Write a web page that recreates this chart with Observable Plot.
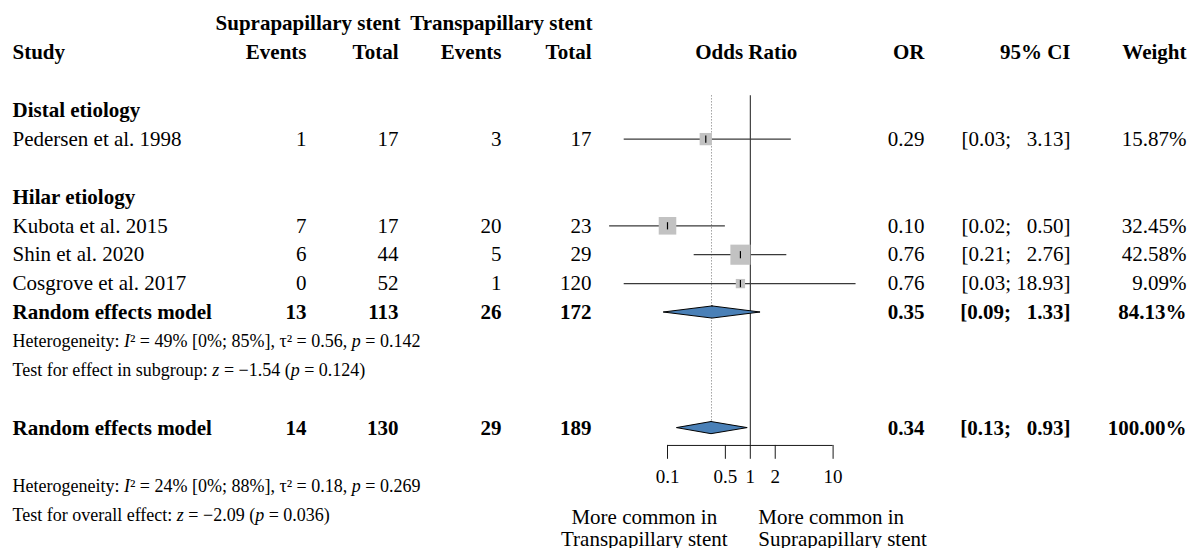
<!DOCTYPE html>
<html>
<head>
<meta charset="utf-8">
<script src="https://cdn.jsdelivr.net/npm/d3@7"></script>
<script src="https://cdn.jsdelivr.net/npm/@observablehq/plot@0.6"></script>
<style>
  html, body { margin: 0; padding: 0; background: #fff; }
  #chart svg { display: block; }
</style>
</head>
<body>
<div id="chart"></div>
<script>
// ---- Study-level data -------------------------------------------------
const studyNames   = ["Pedersen et al. 1998", "Kubota et al. 2015", "Shin et al. 2020", "Cosgrove et al. 2017"];
const studyGroup   = ["Distal etiology", "Hilar etiology", "Hilar etiology", "Hilar etiology"];
const supraEvents  = [1, 7, 6, 0];
const supraTotal   = [17, 17, 44, 52];
const transEvents  = [3, 20, 5, 1];
const transTotal   = [17, 23, 29, 120];
const oddsRatio    = [0.29, 0.10, 0.76, 0.76];
const ciLower      = [0.03, 0.02, 0.21, 0.03];
const ciUpper      = [3.13, 0.50, 2.76, 18.93];
const weightPct    = [15.87, 32.45, 42.58, 9.09];

// ---- Subgroups and pooled estimates -----------------------------------
const groupNames        = ["Distal etiology", "Hilar etiology"];
const pooledLabels      = ["Random effects model", "Random effects model"];
const pooledScope       = ["Hilar etiology", "Overall"];
const pooledSupraEvents = [13, 14];
const pooledSupraTotal  = [113, 130];
const pooledTransEvents = [26, 29];
const pooledTransTotal  = [172, 189];
const pooledOR          = [0.35, 0.34];
const pooledLower       = [0.09, 0.13];
const pooledUpper       = [1.33, 0.93];
const pooledWeight      = [84.13, 100.00];
const hetNotes  = ["Heterogeneity: I² = 49% [0%; 85%], τ² = 0.56, p = 0.142",
                   "Heterogeneity: I² = 24% [0%; 88%], τ² = 0.18, p = 0.269"];
const testNotes = ["Test for effect in subgroup: z = −1.54 (p = 0.124)",
                   "Test for overall effect: z = −2.09 (p = 0.036)"];

// ---- Headers, axis ticks and direction labels -------------------------
const armHeaders    = ["Suprapapillary stent", "Transpapillary stent"];
const columnHeaders = ["Study", "Events", "Total", "Events", "Total", "Odds Ratio", "OR", "95% CI", "Weight"];
const orTicks       = [0.1, 0.5, 1, 2, 10];
const favourLabels  = ["More common in\nTranspapillary stent", "More common in\nSuprapapillary stent"];

// ---- Layout ---------------------------------------------------------------
const W = 1190, H = 548;
const rowTop = 23, rowStep = 28.9;          // pixel centre of row 0, row spacing
const col = {study: 12, supraEvents: 306, supraTotal: 398, transEvents: 501, transTotal: 591,
             or: 924, ci: 1070, weight: 1186};
const armCol = [400, 592];                   // right edges of the two arm headers
const axisRow = 14.6;                        // vertical position of the OR axis, in rows
const tickLen = 0.48;                        // axis tick length, in rows
const tickLabelRow = axisRow + 1.08;
const favourRow = 17.45;
const diamondHalf = 0.21;                    // half height of the pooled diamonds, in rows
const fs = 21, fsNote = 18, fsTick = 19;

// Assign a row to every line of the table.
let r = 3;
const groupRows = [], studyRow = [], pooledRow = [], notes = [];
for (const g of groupNames) {
  groupRows.push({label: g, row: r++});
  studyGroup.forEach((sg, i) => { if (sg === g) studyRow[i] = r++; });
  const p = pooledScope.indexOf(g);
  if (p >= 0) {
    pooledRow[p] = r++;
    notes.push({text: hetNotes[p], row: r++}, {text: testNotes[p], row: r++});
  }
  r++;
}
const overall = pooledScope.indexOf("Overall");
pooledRow[overall] = r;
r += 2;
notes.push({text: hetNotes[overall], row: r++}, {text: testNotes[overall], row: r++});

const f2 = d3.format(".2f");
const ciText = (lo, hi) => `[${f2(lo)}; ${f2(hi).padStart(5, "\u2007")}]`;

const studies = studyNames.map((name, i) => ({
  name, row: studyRow[i], se: supraEvents[i], st: supraTotal[i], te: transEvents[i], tt: transTotal[i],
  or: oddsRatio[i], lo: ciLower[i], hi: ciUpper[i], w: weightPct[i]
}));
const pooled = pooledLabels.map((name, i) => ({
  name, row: pooledRow[i], se: pooledSupraEvents[i], st: pooledSupraTotal[i], te: pooledTransEvents[i],
  tt: pooledTransTotal[i], or: pooledOR[i], lo: pooledLower[i], hi: pooledUpper[i], w: pooledWeight[i]
}));
const diamonds = pooled.flatMap((p, i) => [
  {id: i, y: p.row - diamondHalf, x1: p.or, x2: p.or},
  {id: i, y: p.row,               x1: p.lo, x2: p.hi},
  {id: i, y: p.row + diamondHalf, x1: p.or, x2: p.or}
]);

// Table columns drawn as text at fixed horizontal anchors.
function tableColumns(data, weight) {
  const cell = (text, x, anchor = "end") => Plot.text(data, {
    y: "row", text, frameAnchor: "left", dx: x, textAnchor: anchor, fontSize: fs, fontWeight: weight
  });
  return [
    cell("name", col.study, "start"),
    cell(d => `${d.se}`, col.supraEvents),
    cell(d => `${d.st}`, col.supraTotal),
    cell(d => `${d.te}`, col.transEvents),
    cell(d => `${d.tt}`, col.transTotal),
    cell(d => f2(d.or), col.or),
    cell(d => ciText(d.lo, d.hi), col.ci),
    cell(d => `${f2(d.w)}%`, col.weight)
  ];
}

const headerCols = [col.study, col.supraEvents, col.supraTotal, col.transEvents, col.transTotal, null, col.or, col.ci, col.weight];
const headerMarks = columnHeaders.map((h, i) => h === "Odds Ratio"
  ? Plot.text([h], {x: () => 1, y: () => 1, dx: -4, text: d => d, fontSize: fs, fontWeight: "bold"})
  : Plot.text([h], {y: () => 1, text: d => d, frameAnchor: "left", dx: headerCols[i],
                    textAnchor: i === 0 ? "start" : "end", fontSize: fs, fontWeight: "bold"}));
const armMarks = armHeaders.map((h, i) =>
  Plot.text([h], {y: () => 0, text: d => d, frameAnchor: "left", dx: armCol[i],
                  textAnchor: "end", fontSize: fs, fontWeight: "bold"}));

// A short vertical stroke marking each point estimate.
const vbar = {
  draw(context, size) {
    const h = Math.sqrt(size / Math.PI);
    context.moveTo(0, -h);
    context.lineTo(0, h);
  }
};

const chart = Plot.plot({
  width: W,
  height: H,
  margin: 0,
  style: {fontFamily: "'Liberation Serif', 'Times New Roman', serif", color: "#000", background: "#fff"},
  x: {type: "log", domain: [0.1, 10], range: [667, 832.6]},
  y: {domain: [0, 18], range: [rowTop, rowTop + rowStep * 18], axis: null},
  r: {type: "sqrt", domain: [0, 100], range: [0, 17.4]},
  marks: [
    // column headers
    ...armMarks,
    ...headerMarks,

    // subgroup labels
    Plot.text(groupRows, {y: "row", text: "label", frameAnchor: "left", dx: col.study,
      textAnchor: "start", fontSize: fs, fontWeight: "bold"}),

    // study and pooled rows
    ...tableColumns(studies, "normal"),
    ...tableColumns(pooled, "bold"),

    // heterogeneity and test notes
    Plot.text(notes, {y: "row", text: "text", frameAnchor: "left", dx: col.study,
      textAnchor: "start", fontSize: fsNote, className: "note"}),

    // reference lines: null effect and overall estimate
    Plot.ruleX([1], {y1: () => 2.5, y2: () => axisRow, stroke: "#1a1a1a", strokeWidth: 1}),
    Plot.ruleX([pooled[overall]], {x: "or", y1: () => 2.5, y2: "row", stroke: "#8a8a8a",
      strokeWidth: 1, strokeDasharray: "1.2,1.8"}),

    // confidence intervals, weight squares, point estimates
    Plot.ruleY(studies, {y: "row", x1: "lo", x2: "hi", stroke: "#3a3a3a", strokeWidth: 1.3}),
    Plot.dot(studies, {x: "or", y: "row", r: "w", symbol: "square", fill: "#c2c2c2", stroke: "none"}),
    Plot.dot(studies, {x: "or", y: "row", r: 3.6, symbol: vbar, stroke: "#000", strokeWidth: 1.2}),

    // pooled diamonds
    Plot.areaX(diamonds, {x1: "x1", x2: "x2", y: "y", z: "id", fill: "#4a80b7",
      stroke: "#000", strokeWidth: 1, curve: "linear"}),

    // odds ratio axis: baseline, ticks and labels
    Plot.ruleY([axisRow], {x1: d3.min(orTicks), x2: d3.max(orTicks), stroke: "#1a1a1a", strokeWidth: 1}),
    Plot.ruleX(orTicks, {x: d => d, y1: () => axisRow, y2: () => axisRow + tickLen,
      stroke: "#1a1a1a", strokeWidth: 1}),
    Plot.text(orTicks, {x: d => d, y: () => tickLabelRow, text: d => `${d}`, fontSize: fsTick}),

    // direction labels
    Plot.text([favourLabels[0]], {x: () => 1, y: () => favourRow, dx: -106, text: d => d,
      textAnchor: "middle", lineHeight: 1.08, fontSize: fs}),
    Plot.text([favourLabels[1]], {x: () => 1, y: () => favourRow, dx: 8, text: d => d,
      textAnchor: "start", lineHeight: 1.08, fontSize: fs})
  ]
});

// Italicise the statistical symbols in the notes.
d3.select(chart).selectAll("g.note text").each(function () {
  const parts = this.textContent.split(/(\bI(?=²)|\bp(?= =)|\bz(?= =))/);
  this.textContent = "";
  for (const part of parts) {
    if (!part) continue;
    const t = d3.select(this).append("tspan").text(part);
    if (/^[Ipz]$/.test(part)) t.attr("font-style", "italic");
  }
});

document.getElementById("chart").append(chart);
</script>
</body>
</html>
